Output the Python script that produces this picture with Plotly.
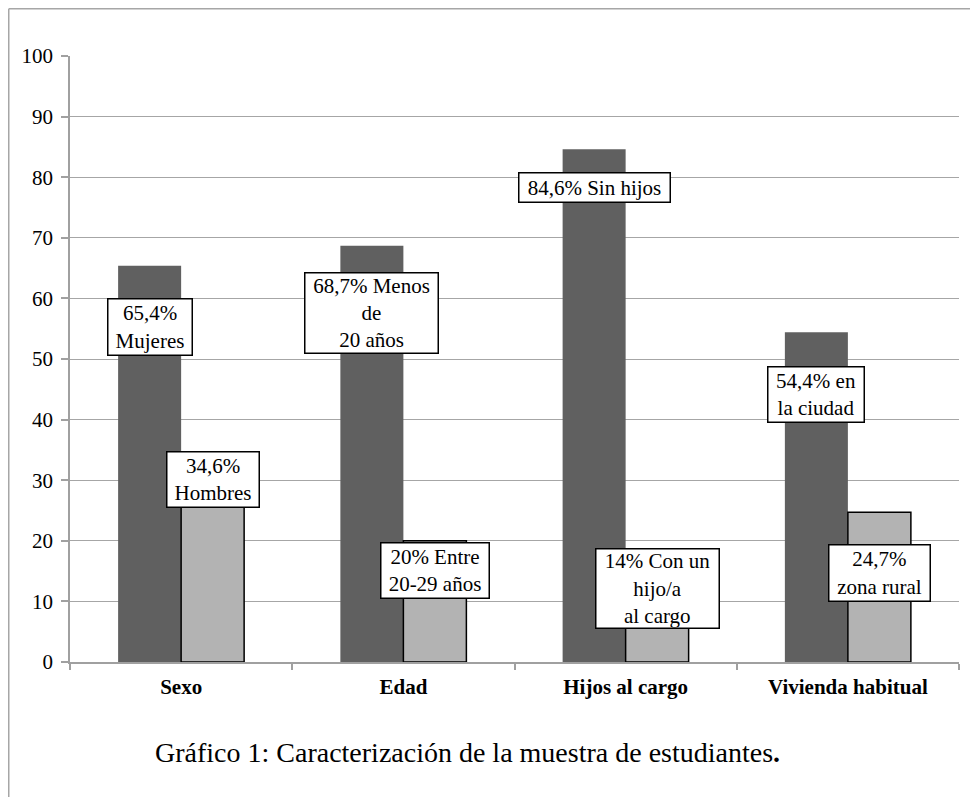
import plotly.graph_objects as go

categories = ["Sexo", "Edad", "Hijos al cargo", "Vivienda habitual"]
dark_values = [65.4, 68.7, 84.6, 54.4]
light_values = [34.6, 20.0, 14.0, 24.7]
dark_labels = ["65,4%<br>Mujeres", "68,7% Menos<br>de<br>20 años", "84,6% Sin hijos", "54,4% en<br>la ciudad"]
light_labels = ["34,6%<br>Hombres", "20% Entre<br>20-29 años", "14% Con un<br>hijo/a<br>al cargo", "24,7%<br>zona rural"]
y_ticks = list(range(0, 101, 10))
caption = "Gráfico 1: Caracterización de la muestra de estudiantes<b>.</b>"

# label placement (layout only)
dark_label_y = [55.3, 57.6, 78.3, 44.1]
light_label_y = [30.1, 15.1, 12.1, 14.7]
dark_box = [(86, 58), (135, 82), (153, 31), (98, 57)]
light_box = [(94, 57), (110, 57), (125, 81), (103, 58)]

FONT = "Liberation Serif"
bargap = 0.433
off = (1 - bargap) / 4

# page offset of the figure (default body margin)
PX, PY = 8, 8
PL, PR, PT, PB = 70, 959, 56, 662  # plot area in page pixels
W, H = 970, 789


def px(x):
    return (x - PL) / (PR - PL)


def py(y):
    return (PB - y) / (PB - PT)


fig = go.Figure()
fig.add_trace(go.Bar(x=categories, y=dark_values, marker=dict(color="#606060", line=dict(width=0)),
                     hoverinfo="skip"))
fig.add_trace(go.Bar(x=categories, y=light_values, marker=dict(color="#b3b3b3", line=dict(color="black", width=1.5)),
                     hoverinfo="skip"))

bw = 1.5
annotations = []
for i in range(len(categories)):
    for txt, yv, box, dx in [(dark_labels[i], dark_label_y[i], dark_box[i], -off),
                             (light_labels[i], light_label_y[i], light_box[i], off)]:
        annotations.append(dict(
            x=i + dx, y=yv, xref="x", yref="y", text=txt, showarrow=False,
            font=dict(family=FONT, size=21, color="black"),
            bgcolor="white", bordercolor="black", borderwidth=bw, borderpad=0,
            width=box[0] - 2 * bw, height=box[1] - 2 * bw,
            xanchor="center", yanchor="middle", align="center"))

annotations.append(dict(
    x=px(467), y=py(752), xref="paper", yref="paper",
    text=caption, showarrow=False, xanchor="center", yanchor="middle",
    font=dict(family=FONT, size=28, color="black")))

border_col = "#a6a6a6"
shapes = [
    dict(type="line", xref="paper", yref="paper", x0=px(8.75), x1=px(990),
         y0=py(8.75), y1=py(8.75), line=dict(color=border_col, width=1.5)),
    dict(type="line", xref="paper", yref="paper", x0=px(8.75), x1=px(8.75),
         y0=py(8.75), y1=py(820), line=dict(color=border_col, width=1.5)),
]

fig.update_layout(
    width=W, height=H,
    margin=dict(l=PL - PX, r=W - (PR - PX), t=PT - PY, b=H - (PB - PY)),
    paper_bgcolor="white", plot_bgcolor="white",
    barmode="group", bargap=bargap, bargroupgap=0,
    showlegend=False,
    font=dict(family=FONT, color="black"),
    annotations=annotations, shapes=shapes,
    xaxis=dict(type="category", range=[-0.5, 3.5], showline=True, linecolor="#a0a0a0", linewidth=1.5,
               ticks="outside", tickson="boundaries", ticklen=6, tickcolor="#a0a0a0", tickwidth=1.5,
               tickfont=dict(family=FONT, size=21, color="black"),
               tickvals=categories, ticktext=["<b>%s</b>" % c for c in categories],
               ticklabelstandoff=5, showgrid=False, zeroline=False, fixedrange=True),
    yaxis=dict(range=[0, 100], tickvals=y_ticks, showline=True, linecolor="#a0a0a0", linewidth=1.5,
               ticks="outside", ticklen=7, tickcolor="#a0a0a0", tickwidth=1.5,
               tickfont=dict(family=FONT, size=21, color="black"), ticklabelstandoff=4,
               showgrid=True, gridcolor="#a6a6a6", gridwidth=1.3, zeroline=False, fixedrange=True),
)

fig.write_html("out.html")
